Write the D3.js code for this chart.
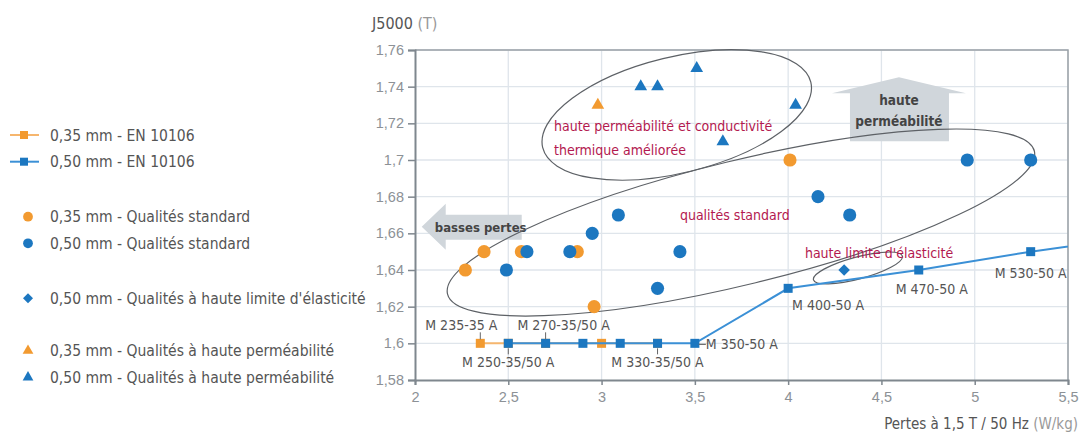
<!DOCTYPE html>
<html>
<head>
<meta charset="utf-8">
<script src="https://cdnjs.cloudflare.com/ajax/libs/d3/7.8.5/d3.min.js"></script>
<style>
body { margin: 0; background: #fff; }
svg { display: block; font-family: "DejaVu Sans Condensed", "DejaVu Sans", sans-serif; font-stretch: condensed; }
</style>
</head>
<body>
<div id="chart"></div>
<script>
// ticks
var xTicks = [2, 2.5, 3, 3.5, 4, 4.5, 5, 5.5];
var xTickLabels = ["2", "2,5", "3", "3,5", "4", "4,5", "5", "5,5"];
var yTicks = [1.58, 1.6, 1.62, 1.64, 1.66, 1.68, 1.7, 1.72, 1.74, 1.76];
var yTickLabels = ["1,58", "1,6", "1,62", "1,64", "1,66", "1,68", "1,7", "1,72", "1,74", "1,76"];

// EN 10106 grades (lines)
var en35Names = ["M 235-35 A", "M 250-35 A", "M 270-35 A", "M 300-35 A", "M 330-35 A"];
var en35Loss = [2.35, 2.5, 2.7, 3.0, 3.3];
var en35J = [1.6, 1.6, 1.6, 1.6, 1.6];
var en50Names = ["M 250-50 A", "M 270-50 A", "M 290-50 A", "M 310-50 A", "M 330-50 A", "M 350-50 A", "M 400-50 A", "M 470-50 A", "M 530-50 A", "M 600-50 A"];
var en50Loss = [2.5, 2.7, 2.9, 3.1, 3.3, 3.5, 4.0, 4.7, 5.3, 6.0];
var en50J = [1.6, 1.6, 1.6, 1.6, 1.6, 1.6, 1.63, 1.64, 1.65, 1.66];

// standard qualities
var std35Loss = [2.27, 2.37, 2.57, 2.87, 2.96, 4.01];
var std35J = [1.64, 1.65, 1.65, 1.65, 1.62, 1.70];
var std50Loss = [2.49, 2.60, 2.83, 2.95, 3.09, 3.30, 3.42, 4.16, 4.33, 4.96, 5.30];
var std50J = [1.64, 1.65, 1.65, 1.66, 1.67, 1.63, 1.65, 1.68, 1.67, 1.70, 1.70];

// high yield strength
var hle50Loss = [4.3];
var hle50J = [1.64];

// high permeability
var hp35Loss = [2.98];
var hp35J = [1.73];
var hp50Loss = [3.21, 3.30, 3.51, 3.65, 4.04];
var hp50J = [1.74, 1.74, 1.75, 1.71, 1.73];

// grade labels on the EN lines
var gradeLabels = ["M 235-35 A", "M 270-35/50 A", "M 250-35/50 A", "M 330-35/50 A", "M 350-50 A", "M 400-50 A", "M 470-50 A", "M 530-50 A"];
var gradeLoss = [2.35, 2.7, 2.5, 3.3, 3.5, 4.0, 4.7, 5.3];
var gradeJ = [1.6, 1.6, 1.6, 1.6, 1.6, 1.63, 1.64, 1.65];

var legendLabels = [
    "0,35 mm - EN 10106",
    "0,50 mm - EN 10106",
    "0,35 mm - Qualités standard",
    "0,50 mm - Qualités standard",
    "0,50 mm - Qualités à haute limite d'élasticité",
    "0,35 mm - Qualités à haute perméabilité",
    "0,50 mm - Qualités à haute perméabilité"
];

var ORANGE = "#f29a30";
var BLUE = "#1c77c0";
var ORANGE_LINE = "#f6b66e";
var BLUE_LINE = "#3b90d6";
var GRID = "#dfe5eb";
var AXIS = "#7f878e";
var RED = "#b3194f";

var width = 1079, height = 434;
var svg = d3.select("#chart").append("svg")
    .attr("width", width)
    .attr("height", height);

var x = d3.scaleLinear().domain([2, 5.5]).range([415, 1068]);
var y = d3.scaleLinear().domain([1.58, 1.76]).range([380, 50]);

function zipPts(xs, ys){
    return xs.map(function(v, i){ return [v, ys[i]]; });
}

// grid
svg.append("g").selectAll("line").data(xTicks.slice(1)).enter().append("line")
    .attr("x1", function(d){ return x(d); }).attr("x2", function(d){ return x(d); })
    .attr("y1", y(1.76)).attr("y2", y(1.58))
    .attr("stroke", GRID).attr("stroke-width", 1.3);
svg.append("g").selectAll("line").data(yTicks.slice(1)).enter().append("line")
    .attr("x1", x(2)).attr("x2", x(5.5))
    .attr("y1", function(d){ return y(d); }).attr("y2", function(d){ return y(d); })
    .attr("stroke", GRID).attr("stroke-width", 1.3);

// frame top/right
svg.append("path")
    .attr("d", "M" + x(2) + "," + y(1.76) + "H" + x(5.5) + "V" + y(1.58))
    .attr("fill", "none").attr("stroke", "#9aa1a7").attr("stroke-width", 1.5);

// axes
var yAxis = svg.append("g").attr("transform", "translate(" + x(2) + ",0)")
    .call(d3.axisLeft(y).tickValues(yTicks).tickSize(7).tickPadding(4)
        .tickFormat(function(d, i){ return yTickLabels[i]; }));
var xAxis = svg.append("g").attr("transform", "translate(0," + y(1.58) + ")")
    .call(d3.axisBottom(x).tickValues(xTicks).tickSize(5).tickPadding(7)
        .tickFormat(function(d, i){ return xTickLabels[i]; }));
[xAxis, yAxis].forEach(function(ax){
    ax.select(".domain").attr("stroke", AXIS).attr("stroke-width", 2);
    ax.selectAll(".tick line").attr("stroke", AXIS).attr("stroke-width", 1.5);
    ax.selectAll(".tick text").attr("fill", "#8c9196")
        .style("font-family", "inherit").style("font-size", "14.5px");
});

// axis titles
var yt = svg.append("text").attr("x", 372).attr("y", 29).style("font-size", "16px");
yt.append("tspan").attr("fill", "#555").text("J5000");
yt.append("tspan").attr("fill", "#999").text(" (T)");
var xt = svg.append("text").attr("x", 1078).attr("y", 429).attr("text-anchor", "end").style("font-size", "15px");
xt.append("tspan").attr("fill", "#555").text("Pertes à 1,5 T / 50 Hz");
xt.append("tspan").attr("fill", "#999").text(" (W/kg)");

// big arrows
var arrowColor = "#d0d6db";
var lt = [x(2.036), y(1.6636)];
svg.append("path")
    .attr("d", "M" + lt[0] + "," + lt[1] +
        "L" + (lt[0] + 24) + "," + (lt[1] - 23) + "V" + (lt[1] - 12) + "H" + (lt[0] + 100) +
        "V" + (lt[1] + 13) + "H" + (lt[0] + 24) + "V" + (lt[1] + 23) + "Z")
    .attr("fill", arrowColor);
svg.append("text").attr("x", lt[0] + 59).attr("y", lt[1] + 5).attr("text-anchor", "middle")
    .attr("fill", "#444").style("font-weight", "bold").style("font-size", "13px").text("basses pertes");

var ut = [x(4.594), y(1.7451)];
svg.append("path")
    .attr("d", "M" + ut[0] + "," + ut[1] +
        "L" + (ut[0] + 67) + "," + (ut[1] + 16) + "H" + (ut[0] + 50) + "V" + (ut[1] + 64) +
        "H" + (ut[0] - 49) + "V" + (ut[1] + 16) + "H" + (ut[0] - 67) + "Z")
    .attr("fill", arrowColor);
svg.append("text").attr("x", ut[0]).attr("y", ut[1] + 28).attr("text-anchor", "middle")
    .attr("fill", "#444").style("font-weight", "bold").style("font-size", "13.5px").text("haute");
svg.append("text").attr("x", ut[0]).attr("y", ut[1] + 49).attr("text-anchor", "middle")
    .attr("fill", "#444").style("font-weight", "bold").style("font-size", "13.5px").text("perméabilité");

// group ellipses (centre in data units)
var ellipses = [
    {cx: 3.403, cy: 1.7246, rx: 138, ry: 58, angle: -13.75},
    {cx: 3.747, cy: 1.6659, rx: 302, ry: 62, angle: -13.7},
    {cx: 4.374, cy: 1.6411, rx: 46, ry: 11, angle: -15}
];
svg.append("g").selectAll("ellipse").data(ellipses).enter().append("ellipse")
    .attr("transform", function(d){ return "translate(" + x(d.cx) + "," + y(d.cy) + ") rotate(" + d.angle + ")"; })
    .attr("rx", function(d){ return d.rx; })
    .attr("ry", function(d){ return d.ry; })
    .attr("fill", "none").attr("stroke", "#5d6166").attr("stroke-width", 1.2);

// group annotations
var red1 = svg.append("text").attr("x", x(2.745)).attr("y", y(1.7158))
    .attr("fill", RED).style("font-size", "14px");
red1.append("tspan").attr("x", x(2.745)).text("haute perméabilité et conductivité");
red1.append("tspan").attr("x", x(2.745)).attr("dy", 24).text("thermique améliorée");
svg.append("text").attr("x", x(3.42)).attr("y", y(1.6673))
    .attr("fill", RED).style("font-size", "14px").text("qualités standard");
svg.append("text").attr("x", x(4.09)).attr("y", y(1.6466))
    .attr("fill", RED).style("font-size", "14px").text("haute limite d'élasticité");

// clip for lines
svg.append("clipPath").attr("id", "plotclip").append("rect")
    .attr("x", x(2)).attr("y", y(1.76)).attr("width", x(5.5) - x(2)).attr("height", y(1.58) - y(1.76));
var plot = svg.append("g").attr("clip-path", "url(#plotclip)");

var line = d3.line().x(function(d){ return x(d[0]); }).y(function(d){ return y(d[1]); });

function drawEN(xs, ys, lineColor, markColor){
    var pts = zipPts(xs, ys);
    plot.append("path").datum(pts).attr("d", line)
        .attr("fill", "none").attr("stroke", lineColor).attr("stroke-width", 2);
    plot.append("g").selectAll("rect").data(pts).enter().append("rect")
        .attr("x", function(d){ return x(d[0]) - 4.5; })
        .attr("y", function(d){ return y(d[1]) - 4.5; })
        .attr("width", 9).attr("height", 9)
        .attr("fill", markColor);
}
drawEN(en35Loss, en35J, ORANGE_LINE, ORANGE);
drawEN(en50Loss, en50J, BLUE_LINE, BLUE);

// grade labels
var labelLayout = [
    {dx: -19, dy: -13, tick: [-11, -4]},
    {dx: 18, dy: -13, tick: [-11, -4]},
    {dx: 0, dy: 24, tick: [5, 11]},
    {dx: 0, dy: 24, tick: [5, 11]},
    {dx: 11, dy: 6, anchor: "start", dash: true},
    {dx: 40, dy: 22},
    {dx: 13, dy: 24},
    {dx: 0, dy: 26}
];
gradeLabels.forEach(function(name, i){
    var px = x(gradeLoss[i]), py = y(gradeJ[i]), L = labelLayout[i];
    if (L.tick){
        svg.append("line").attr("x1", px).attr("x2", px)
            .attr("y1", py + L.tick[0]).attr("y2", py + L.tick[1])
            .attr("stroke", "#666").attr("stroke-width", 1);
    }
    if (L.dash){
        svg.append("line").attr("x1", px + 4).attr("x2", px + 11)
            .attr("y1", py + 1).attr("y2", py + 1)
            .attr("stroke", "#666").attr("stroke-width", 1.2);
    }
    svg.append("text").attr("x", px + L.dx).attr("y", py + L.dy)
        .attr("text-anchor", L.anchor || "middle")
        .attr("fill", "#555").style("font-size", "14px").text(name);
});

// scatter marks
var circle = d3.symbol().type(d3.symbolCircle).size(135);
var triangle = d3.symbol().type(d3.symbolTriangle).size(70);
var diamond = d3.symbol().type(d3.symbolSquare).size(66);

function drawMarks(xs, ys, sym, color, rot){
    svg.append("g").selectAll("path").data(zipPts(xs, ys)).enter().append("path")
        .attr("transform", function(d){ return "translate(" + x(d[0]) + "," + y(d[1]) + ")" + (rot ? " rotate(" + rot + ")" : ""); })
        .attr("d", sym)
        .attr("fill", color);
}
drawMarks(std35Loss, std35J, circle, ORANGE);
drawMarks(std50Loss, std50J, circle, BLUE);
drawMarks(hle50Loss, hle50J, diamond, BLUE, 45);
drawMarks(hp35Loss, hp35J, triangle, ORANGE);
drawMarks(hp50Loss, hp50J, triangle, BLUE);

// legend
var legendY = [135, 161.7, 216.7, 243.3, 298.3, 350.7, 377.3];
var legendType = ["line", "line", "circle", "circle", "diamond", "triangle", "triangle"];
var legendColor = [ORANGE, BLUE, ORANGE, BLUE, BLUE, ORANGE, BLUE];
var legendLine = [ORANGE_LINE, BLUE_LINE];
var legend = svg.append("g");
legendLabels.forEach(function(lab, i){
    var g = legend.append("g").attr("transform", "translate(0," + legendY[i] + ")");
    var t = legendType[i];
    if (t === "line"){
        g.append("line").attr("x1", 10).attr("x2", 39).attr("y1", 0).attr("y2", 0)
            .attr("stroke", legendLine[i]).attr("stroke-width", 2);
        g.append("rect").attr("x", 20).attr("y", -4).attr("width", 8).attr("height", 8).attr("fill", legendColor[i]);
    } else {
        var sym = t === "circle" ? d3.symbol().type(d3.symbolCircle).size(75)
            : t === "triangle" ? d3.symbol().type(d3.symbolTriangle).size(50)
            : d3.symbol().type(d3.symbolSquare).size(50);
        g.append("path").attr("d", sym)
            .attr("transform", "translate(28,0)" + (t === "diamond" ? " rotate(45)" : ""))
            .attr("fill", legendColor[i]);
    }
    g.append("text").attr("x", 50).attr("y", 5.5).attr("fill", "#555")
        .style("font-size", "15.5px").text(lab);
});
</script>
</body>
</html>
